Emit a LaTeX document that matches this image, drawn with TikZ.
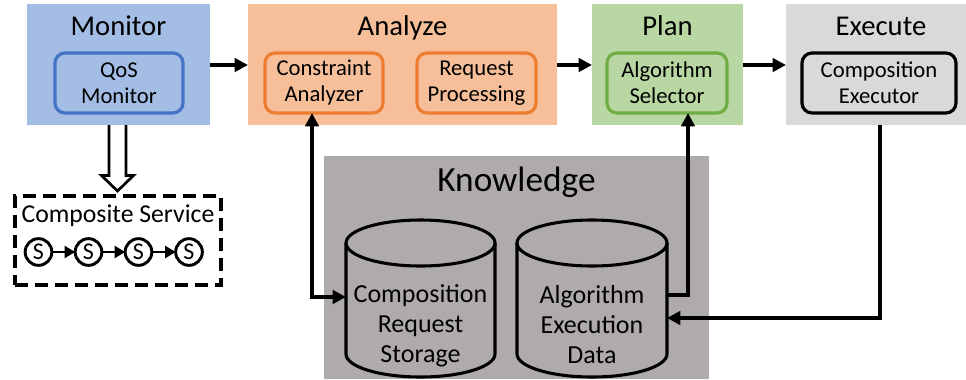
\documentclass[tikz,border=0pt]{standalone}
\usepackage{fontspec}
\setmainfont{Carlito}
\usetikzlibrary{arrows.meta,fit}

\definecolor{monfill}{HTML}{A3BDE5}
\definecolor{anafill}{HTML}{F6BF99}
\definecolor{planfill}{HTML}{B8D7A2}
\definecolor{exefill}{HTML}{D9D9D9}
\definecolor{kfill}{HTML}{AFABAB}
\definecolor{monline}{HTML}{4472C4}
\definecolor{analine}{HTML}{ED7D31}
\definecolor{planline}{HTML}{70AD47}

\begin{document}
\begin{tikzpicture}[x=0.75pt,y=-0.75pt,
  phase/.style={inner sep=0pt,outer sep=0pt,draw=none},
  title/.style={inner sep=0pt,anchor=base,font=\fontsize{21.5}{26}\selectfont},
  comp/.style={rectangle,rounded corners=7.5pt,line width=2.4pt,inner sep=0pt,outer sep=0pt,
    minimum height=45pt,align=center,font=\fontsize{17}{19.5}\selectfont},
  conn/.style={line width=2.8pt,-{Triangle[length=10pt,width=10pt]}},
  dbl/.style={line width=2.8pt,{Triangle[length=10pt,width=10pt]}-{Triangle[length=10pt,width=10pt]}},
  cyl/.style={line width=2.3pt},
  cyltext/.style={align=center,inner sep=0pt,font=\fontsize{19.5}{22.5}\selectfont},
  svc/.style={circle,draw,line width=2.2pt,minimum size=20pt,inner sep=0pt,outer sep=0pt,
    font=\fontsize{18}{18}\selectfont},
  svcarrow/.style={line width=2pt,-{Triangle[length=8pt,width=9pt]}},
  hollow/.style={draw,fill=white,line width=2pt,line join=miter}]

\useasboundingbox (0,0) rectangle (966,379);

% knowledge base area
\node[phase,fill=kfill,fit={(324,156) (709,379)}] (know) {};
\node[title,font=\fontsize{26.5}{30}\selectfont] (knowT) at (516.5,191) {Knowledge};

% MAPE phases
\node[phase,fill=monfill,fit={(27,4) (210,125)}] (mon) {};
\node[phase,fill=anafill,fit={(248,4) (557,125)}] (ana) {};
\node[phase,fill=planfill,fit={(592,4) (743,125)}] (plan) {};
\node[phase,fill=exefill,fit={(786,4) (966,125)}] (exe) {};

\node[title] (monT) at (118.5,35) {Monitor};
\node[title] (anaT) at (402.5,35) {Analyze};
\node[title] (planT) at (667.5,35) {Plan};
\node[title] (exeT) at (881,35) {Execute};

% components
\node[comp,draw=monline,minimum width=96pt] (qos) at (119,83) {QoS\\Monitor};
\node[comp,draw=analine,minimum width=88.5pt] (ca) at (324,83) {Constraint\\Analyzer};
\node[comp,draw=analine,minimum width=89.25pt] (rp) at (476.5,83) {Request\\Processing};
\node[comp,draw=planline,minimum width=90pt] (as) at (667,83) {Algorithm\\Selector};
\node[comp,draw=black,minimum width=115.5pt] (ce) at (879,83) {Composition\\Executor};

% data stores
\node[phase,fit={(346,220) (495,377)}] (crs) {};
\node[phase,fit={(517,220) (667,377)}] (aed) {};
\draw[cyl] (420.5,243) ellipse [x radius=74.5,y radius=23];
\draw[cyl] (346,243) -- (346,354)
  .. controls (346,366.7) and (379.4,377) .. (420.5,377)
  .. controls (461.6,377) and (495,366.7) .. (495,354) -- (495,243);
\draw[cyl] (592,243) ellipse [x radius=75,y radius=23];
\draw[cyl] (517,243) -- (517,354)
  .. controls (517,366.7) and (550.6,377) .. (592,377)
  .. controls (633.4,377) and (667,366.7) .. (667,354) -- (667,243);
\node[cyltext] (crsT) at (420.5,326) {Composition\\Request\\Storage};
\node[cyltext] (aedT) at (592,325) {Algorithm\\Execution\\Data};

% composite service
\node[phase,draw,line width=2.5pt,dash pattern=on 10pt off 5pt,fit={(15,196) (221,285)}] (cs) {};
\node[inner sep=0pt,anchor=base,font=\fontsize{19.3}{22}\selectfont] (csT) at (118,222) {Composite Service};
\node[svc] (s1) at (38.5,252) {S};
\node[svc] (s2) at (88.5,252) {S};
\node[svc] (s3) at (138.5,252) {S};
\node[svc] (s4) at (189,252) {S};
\draw[svcarrow] (s1) -- (s2);
\draw[svcarrow] (s2) -- (s3);
\draw[svcarrow] (s3) -- (s4);

% monitor feeds the composite service
\draw[hollow] (109,125) -- (109,175.5) -- (101.5,175.5) -- (117.5,191) -- (133.5,175.5)
  -- (126,175.5) -- (126,125);

% flow between phases
\coordinate (row) at (0,65);
\draw[conn] (mon.east |- row) -- (ana.west |- row);
\draw[conn] (ana.east |- row) -- (plan.west |- row);
\draw[conn] (plan.east |- row) -- (exe.west |- row);

% links to the knowledge base
\coordinate (j1) at (312,297);
\coordinate (j2) at (688,295);
\coordinate (j3) at (880,318);
\draw[dbl] (ca.south -| j1) |- (crs.west |- j1);
\draw[conn] (aed.east |- j2) -| (as.south -| j2);
\draw[conn] (exe.south -| j3) |- (aed.east |- j3);

\end{tikzpicture}
\end{document}
